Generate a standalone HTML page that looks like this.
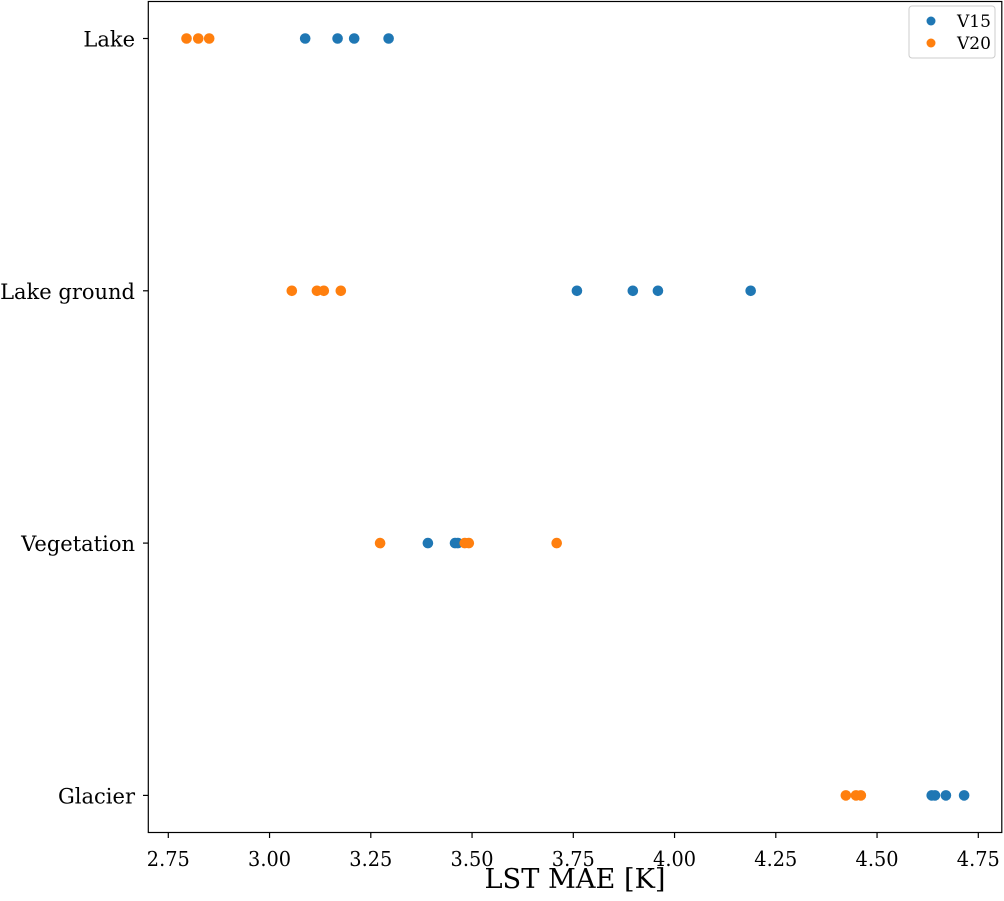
<!DOCTYPE html>
<html><head><meta charset="utf-8"><style>
body{margin:0;background:#fff}
svg text{font-family:"DejaVu Serif","Liberation Serif",serif;fill:#000}
</style></head><body>
<svg id="chart" width="1004" height="896">
<g id="marks"></g>
<rect x="148.3" y="1.5" width="853.5" height="831" fill="none" stroke="#000" stroke-width="1.2"/>
<g id="axes"></g>
<text x="575" y="888" font-size="27.5" text-anchor="middle" textLength="181" lengthAdjust="spacingAndGlyphs">LST MAE [K]</text>
<g>
<rect x="909" y="6" width="86" height="52" rx="3" fill="#fff" stroke="#ccc"/>
<circle cx="931" cy="21" r="4.5" fill="#1f77b4"/>
<text x="957" y="27" font-size="17">V15</text>
<circle cx="931" cy="43" r="4.5" fill="#ff7f0e"/>
<text x="957" y="49" font-size="17">V20</text>
</g>
</svg>
<script>
const categories=["Lake","Lake ground","Vegetation","Glacier"];
const v15=[[3.088,3.168,3.209,3.294],[3.759,3.897,3.959,4.188],[3.391,3.458,3.465],[4.635,4.643,4.67,4.715]];
const v20=[[2.795,2.824,2.851],[3.055,3.117,3.134,3.176],[3.273,3.482,3.492,3.709],[4.423,4.448,4.46]];
const xTicks=[2.75,3.00,3.25,3.50,3.75,4.00,4.25,4.50,4.75];
const NS="http://www.w3.org/2000/svg";
function xs(v){return 168.3+(v-2.75)*405;}
function ys(i){return 38.5+i*252.3;}
const marks=document.getElementById('marks'),axes=document.getElementById('axes');
function mk(t,a,p){const e=document.createElementNS(NS,t);for(const k in a)e.setAttribute(k,a[k]);(p||axes).appendChild(e);return e;}
xTicks.forEach(t=>{
 const l=mk('line',{x1:xs(t),x2:xs(t),y1:832.7,y2:838,stroke:'#000','stroke-width':1.2});
 
 
 const tx=mk('text',{x:xs(t),y:866,'font-size':20.5,'text-anchor':'middle',textLength:43,lengthAdjust:'spacingAndGlyphs'});
 tx.textContent=t.toFixed(2);
 
 
});
categories.forEach((c,i)=>{
 const l=mk('line',{x1:143,x2:148.3,y1:ys(i),y2:ys(i),stroke:'#000','stroke-width':1.2});
 
 
 const tx=mk('text',{x:135,y:ys(i)+8,'font-size':21,'text-anchor':'end'});
 tx.textContent=c;
 
 
});
function series(d,col,name){d.forEach((arr,i)=>arr.forEach(v=>{
 const c=mk('circle',{cx:xs(v),cy:ys(i),r:5.3,fill:col},marks);
 
 
}));}
series(v15,'#1f77b4','v15');
series(v20,'#ff7f0e','v20');
</script>
</body></html>
